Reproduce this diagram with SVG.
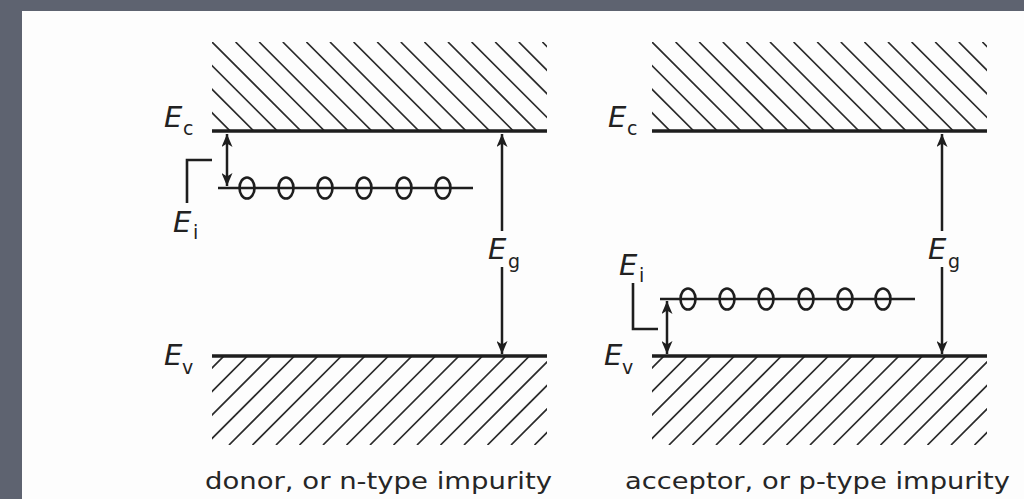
<svg xmlns="http://www.w3.org/2000/svg" width="1024" height="499" viewBox="0 0 1024 499">
<style>
.hatch{fill:none;stroke:#2a2a2a;stroke-width:1.7}
.band{stroke:#1e1e1e;stroke-width:3.5;fill:none}
.lvl{stroke:#1e1e1e;stroke-width:2.4;fill:none}
.dot{stroke:#1e1e1e;stroke-width:2.6;fill:none}
.arr{stroke:#1e1e1e;stroke-width:2.5;fill:none}
.brk{stroke:#1e1e1e;stroke-width:2.6;fill:none}
.lab{font-family:"DejaVu Sans",Verdana,sans-serif;font-style:italic;font-size:29px;fill:#222}
.sub{font-family:"DejaVu Sans",Verdana,sans-serif;font-size:19px;fill:#222}
.cap{font-family:"DejaVu Sans",Verdana,sans-serif;font-size:23px;fill:#262626}
</style>
<defs>
<marker id="ah" viewBox="0 0 13 11" refX="13" refY="5.5" markerWidth="13" markerHeight="11" markerUnits="userSpaceOnUse" orient="auto-start-reverse">
<path d="M0,0 L13,5.5 L0,11 L3.5,5.5 z" fill="#1e1e1e"/>
</marker>
<clipPath id="cTL"><rect x="212" y="42" width="335" height="89"/></clipPath>
<clipPath id="cBL"><rect x="212" y="356" width="335" height="89"/></clipPath>
<clipPath id="cTR"><rect x="652" y="42" width="335" height="89"/></clipPath>
<clipPath id="cBR"><rect x="652" y="356" width="335" height="89"/></clipPath>
</defs>
<rect x="0" y="0" width="1024" height="499" fill="#5e6370"/>
<rect x="22" y="11" width="1002" height="488" fill="#fdfdfd"/>

<g id="donor">
<g id="donor-conduction-band">
<path class="hatch" clip-path="url(#cTL)" d="M141.2 42l89 89M164.8 42l89 89M188.4 42l89 89M212 42l89 89M235.6 42l89 89M259.2 42l89 89M282.8 42l89 89M306.4 42l89 89M330 42l89 89M353.6 42l89 89M377.2 42l89 89M400.8 42l89 89M424.4 42l89 89M448 42l89 89M471.6 42l89 89M495.2 42l89 89M518.8 42l89 89M542.4 42l89 89"/>
<line class="band" x1="212" y1="131" x2="547" y2="131"/>
<text class="lab" x="164" y="127">E</text><text class="sub" x="183" y="135">c</text>
</g>
<g id="donor-valence-band">
<path class="hatch" clip-path="url(#cBL)" d="M224 356l-89 89M247.5 356l-89 89M271 356l-89 89M294.5 356l-89 89M318 356l-89 89M341.5 356l-89 89M365 356l-89 89M388.5 356l-89 89M412 356l-89 89M435.5 356l-89 89M459 356l-89 89M482.5 356l-89 89M506 356l-89 89M529.5 356l-89 89M553 356l-89 89M576.5 356l-89 89M600 356l-89 89M623.5 356l-89 89"/>
<line class="band" x1="212" y1="356" x2="547" y2="356"/>
<text class="lab" x="164" y="365">E</text><text class="sub" x="182" y="374">v</text>
</g>
<g id="donor-level">
<line class="lvl" x1="218" y1="188" x2="473" y2="188"/>
<ellipse class="dot" cx="247" cy="188" rx="7.5" ry="10.5"/>
<ellipse class="dot" cx="286" cy="188" rx="7.5" ry="10.5"/>
<ellipse class="dot" cx="325" cy="188" rx="7.5" ry="10.5"/>
<ellipse class="dot" cx="364" cy="188" rx="7.5" ry="10.5"/>
<ellipse class="dot" cx="404" cy="188" rx="7.5" ry="10.5"/>
<ellipse class="dot" cx="443" cy="188" rx="7.5" ry="10.5"/>
<polyline class="brk" points="212,160 187,160 187,203"/>
<text class="lab" x="173" y="232">E</text><text class="sub" x="193" y="239">i</text>
</g>
<g id="donor-gap-label">
<text class="lab" x="488" y="259">E</text><text class="sub" x="508" y="268">g</text>
</g>
<text class="cap" x="205" y="489" textLength="347" lengthAdjust="spacingAndGlyphs">donor, or n-type impurity</text>
</g>

<g id="acceptor">
<g id="acceptor-conduction-band">
<path class="hatch" clip-path="url(#cTR)" d="M581.2 42l89 89M604.8 42l89 89M628.4 42l89 89M652 42l89 89M675.6 42l89 89M699.2 42l89 89M722.8 42l89 89M746.4 42l89 89M770 42l89 89M793.6 42l89 89M817.2 42l89 89M840.8 42l89 89M864.4 42l89 89M888 42l89 89M911.6 42l89 89M935.2 42l89 89M958.8 42l89 89M982.4 42l89 89"/>
<line class="band" x1="652" y1="131" x2="987" y2="131"/>
<text class="lab" x="608" y="127">E</text><text class="sub" x="627" y="135">c</text>
</g>
<g id="acceptor-valence-band">
<path class="hatch" clip-path="url(#cBR)" d="M664 356l-89 89M687.5 356l-89 89M711 356l-89 89M734.5 356l-89 89M758 356l-89 89M781.5 356l-89 89M805 356l-89 89M828.5 356l-89 89M852 356l-89 89M875.5 356l-89 89M899 356l-89 89M922.5 356l-89 89M946 356l-89 89M969.5 356l-89 89M993 356l-89 89M1016.5 356l-89 89M1040 356l-89 89M1063.5 356l-89 89"/>
<line class="band" x1="652" y1="356" x2="987" y2="356"/>
<text class="lab" x="604" y="365">E</text><text class="sub" x="622" y="374">v</text>
</g>
<g id="acceptor-level">
<line class="lvl" x1="660" y1="299" x2="915" y2="299"/>
<ellipse class="dot" cx="688" cy="299" rx="7.5" ry="10.5"/>
<ellipse class="dot" cx="727" cy="299" rx="7.5" ry="10.5"/>
<ellipse class="dot" cx="766" cy="299" rx="7.5" ry="10.5"/>
<ellipse class="dot" cx="806" cy="299" rx="7.5" ry="10.5"/>
<ellipse class="dot" cx="845" cy="299" rx="7.5" ry="10.5"/>
<ellipse class="dot" cx="883" cy="299" rx="7.5" ry="10.5"/>
<polyline class="brk" points="633,283 633,329 658,329"/>
<text class="lab" x="619" y="275">E</text><text class="sub" x="639" y="282">i</text>
</g>
<g id="acceptor-gap-label">
<text class="lab" x="928" y="259">E</text><text class="sub" x="948" y="268">g</text>
</g>
<text class="cap" x="625" y="489" textLength="385" lengthAdjust="spacingAndGlyphs">acceptor, or p-type impurity</text>
</g>

<g id="connectors">
<line class="arr" x1="227" y1="134" x2="227" y2="186" marker-start="url(#ah)" marker-end="url(#ah)"/>
<line class="arr" x1="502" y1="231" x2="502" y2="134" marker-end="url(#ah)"/>
<line class="arr" x1="502" y1="267" x2="502" y2="354" marker-end="url(#ah)"/>
<line class="arr" x1="667" y1="301" x2="667" y2="354" marker-start="url(#ah)" marker-end="url(#ah)"/>
<line class="arr" x1="942" y1="231" x2="942" y2="134" marker-end="url(#ah)"/>
<line class="arr" x1="942" y1="267" x2="942" y2="354" marker-end="url(#ah)"/>
</g>
</svg>
